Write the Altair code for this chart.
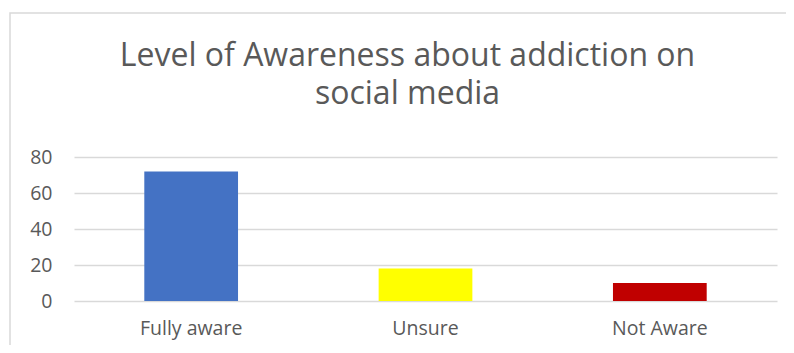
import altair as alt
import pandas as pd

categories = ["Fully aware", "Unsure", "Not Aware"]
values = [72, 18, 10]
colors = ["#4472C4", "#FFFF00", "#C00000"]
y_ticks = [0, 20, 40, 60, 80]

df = pd.DataFrame({"category": categories, "value": values, "color": colors})

FONT = "Open Sans"
TXT = "#595959"

frame = alt.Chart(alt.Data(values=[{"a": 1}])).mark_rect(
    fill="transparent", stroke="#d9d9d9", strokeWidth=1.5
).encode(
    x=alt.value(-64), x2=alt.value(716), y=alt.value(-144), y2=alt.value(200)
)

bars = alt.Chart(df).mark_bar().encode(
    x=alt.X(
        "category:N", sort=categories,
        scale=alt.Scale(paddingInner=0.6, paddingOuter=0.3),
        axis=alt.Axis(title=None, labelAngle=0, ticks=False, domain=False, grid=False,
                      labelFontSize=19.5, labelColor=TXT, labelFont=FONT, labelPadding=18),
    ),
    y=alt.Y(
        "value:Q", scale=alt.Scale(domain=[0, 80]),
        axis=alt.Axis(values=y_ticks, title=None, ticks=False, domain=False,
                      gridColor="#d9d9d9", gridWidth=1.5,
                      labelFontSize=19.5, labelColor=TXT, labelFont=FONT, labelPadding=22),
    ),
    color=alt.Color("color:N", scale=None),
)

chart = alt.layer(frame, bars).properties(
    width=703, height=144,
    autosize=alt.AutoSizeParams(type="none"),
    padding={"left": 66, "top": 149, "right": 9, "bottom": 44},
    title=alt.TitleParams(
        ["Level of Awareness about addiction on", "social media"],
        fontSize=32, font=FONT, fontWeight="normal", color=TXT,
        lineHeight=38, anchor="middle", dx=-18, dy=124, offset=0, frame="group",
        baseline="alphabetic",
    ),
).configure_view(stroke=None)

chart.save("out.html", embed_options={"renderer": "svg", "actions": False})
